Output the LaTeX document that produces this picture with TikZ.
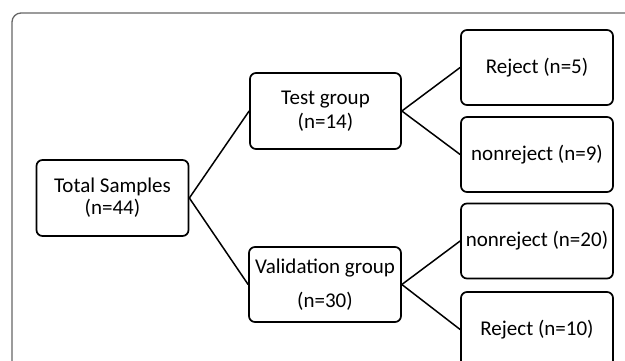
\documentclass[tikz,border=0pt]{standalone}
\usepackage{fontspec}
\setmainfont{Carlito}
\begin{document}
\begin{tikzpicture}[x=1pt,y=-1pt,
  box/.style={draw=black, line width=1.7pt, rounded corners=6pt, rectangle,
    minimum width=152pt, minimum height=75pt, inner sep=0pt, align=center,
    font=\fontsize{21}{22}\selectfont},
  conn/.style={draw=black, line width=1.5pt},
  frame/.style={draw=black!60, line width=1.3pt, rounded corners=9pt}]
\useasboundingbox (0,0) rectangle (625,360);
\clip (0,0) rectangle (625,360);
\draw[frame] (12,420) -- (12,13) -- (700,13);
\node[box, minimum height=76pt] (total) at (112.5,198) {Total Samples\\(n=44)};
\node[box, minimum width=151pt, minimum height=76pt] (test) at (325.5,111) {Test group\\[2pt](n=14)};
\node[box] (valid) at (325,284.5) {Validation group\\[12pt](n=30)};
\node[box] (rej5) at (537,67.5) {Reject (n=5)};
\node[box] (non9) at (537,154.5) {nonreject (n=9)};
\node[box] (non20) at (537,241) {nonreject (n=20)};
\node[box] (rej10) at (537,329.5) {Reject (n=10)};
\draw[conn] (total.east) -- (test.west);
\draw[conn] (total.east) -- (valid.west);
\draw[conn] (test.east) -- (rej5.west);
\draw[conn] (test.east) -- (non9.west);
\draw[conn] (valid.east) -- (non20.west);
\draw[conn] (valid.east) -- (rej10.west);
\end{tikzpicture}
\end{document}
